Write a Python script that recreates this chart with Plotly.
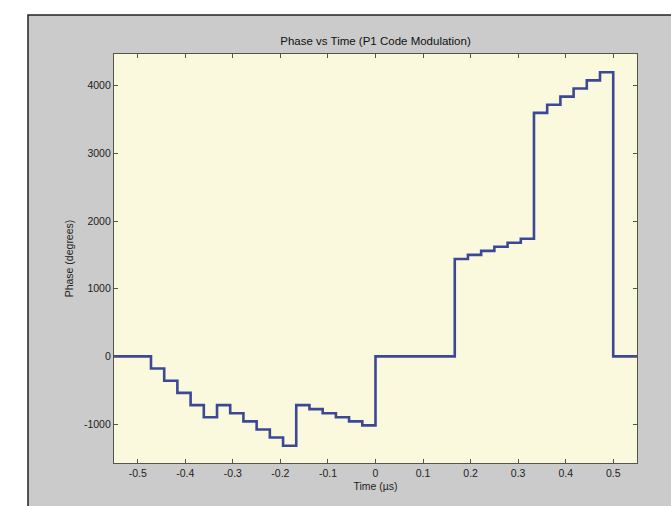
import plotly.graph_objects as go

# Chip start times (µs) of the 36-chip P1 code, plus padding before/after
pad_start = [-0.55]
chip_times = [-0.5, -0.4722, -0.4444, -0.4167, -0.3889, -0.3611,
              -0.3333, -0.3056, -0.2778, -0.25, -0.2222, -0.1944,
              -0.1667, -0.1389, -0.1111, -0.0833, -0.0556, -0.0278,
              0.0, 0.0278, 0.0556, 0.0833, 0.1111, 0.1389,
              0.1667, 0.1944, 0.2222, 0.25, 0.2778, 0.3056,
              0.3333, 0.3611, 0.3889, 0.4167, 0.4444, 0.4722]
pad_end = [0.5, 0.55]

# Phase per chip (degrees)
chip_phase = [0, -180, -360, -540, -720, -900,
              -720, -840, -960, -1080, -1200, -1320,
              -720, -780, -840, -900, -960, -1020,
              0, 0, 0, 0, 0, 0,
              1440, 1500, 1560, 1620, 1680, 1740,
              3600, 3720, 3840, 3960, 4080, 4200]
pad_start_phase = [0]
pad_end_phase = [0, 0]

x_ticks = [-0.5, -0.4, -0.3, -0.2, -0.1, 0, 0.1, 0.2, 0.3, 0.4, 0.5]
x_tick_text = ["-0.5", "-0.4", "-0.3", "-0.2", "-0.1", "0", "0.1", "0.2", "0.3", "0.4", "0.5"]
y_ticks = [-1000, 0, 1000, 2000, 3000, 4000]
y_tick_text = ["-1000", "0", "1000", "2000", "3000", "4000"]

times = pad_start + chip_times + pad_end
phases = pad_start_phase + chip_phase + pad_end_phase

AXC = "#55554a"
FONT = "Liberation Sans, Arial, sans-serif"

fig = go.Figure()
fig.add_trace(go.Scatter(x=times, y=phases, mode="lines",
                         line=dict(color="#3c4896", width=2.6, shape="hv"),
                         showlegend=False, hoverinfo="skip"))

ml, mr, mt, mb = 114, 34, 54, 43
W, H = 671, 506
pw, ph = W - ml - mr, H - mt - mb
def px(xp): return (xp - ml) / pw
def py(yp): return (H - mb - yp) / ph

fig.update_layout(
    width=W, height=H,
    margin=dict(l=ml, r=mr, t=mt, b=mb, pad=0),
    paper_bgcolor="white",
    plot_bgcolor="#fbf9dd",
    font=dict(family=FONT, size=11, color="#222222"),
    title=dict(text="Phase vs Time (P1 Code Modulation)", x=0.5, xref="paper",
               xanchor="center", y=1 - 41 / H, yanchor="middle",
               font=dict(size=11.5, color="#111111")),
    shapes=[
        dict(type="rect", xref="paper", yref="paper",
             x0=px(28), x1=px(700), y0=py(540), y1=py(15),
             fillcolor="#cbcbcb", line=dict(color="#222222", width=1.5), layer="below"),
        dict(type="rect", xref="paper", yref="paper",
             x0=0, x1=1, y0=0, y1=1,
             fillcolor="#fbf9dd", line=dict(width=0), layer="below"),
    ],
    xaxis=dict(range=[-0.55, 0.55], tickmode="array", tickvals=x_ticks, ticktext=x_tick_text,
               ticks="inside", ticklen=4, tickcolor=AXC, showgrid=False, zeroline=False,
               showline=True, linecolor=AXC, linewidth=1.2, mirror="ticks",
               tickfont=dict(size=10.5, color="#222222"),
               title=dict(text="Time (µs)", standoff=4, font=dict(size=10.5))),
    yaxis=dict(range=[-1576, 4470], tickmode="array", tickvals=y_ticks, ticktext=y_tick_text,
               ticks="inside", ticklen=4, tickcolor=AXC, showgrid=False, zeroline=False,
               showline=True, linecolor=AXC, linewidth=1.2, mirror="ticks",
               tickfont=dict(size=10.5, color="#222222"),
               title=dict(text="Phase (degrees)", standoff=8, font=dict(size=10.5))),
)

fig.write_html("out.html")
